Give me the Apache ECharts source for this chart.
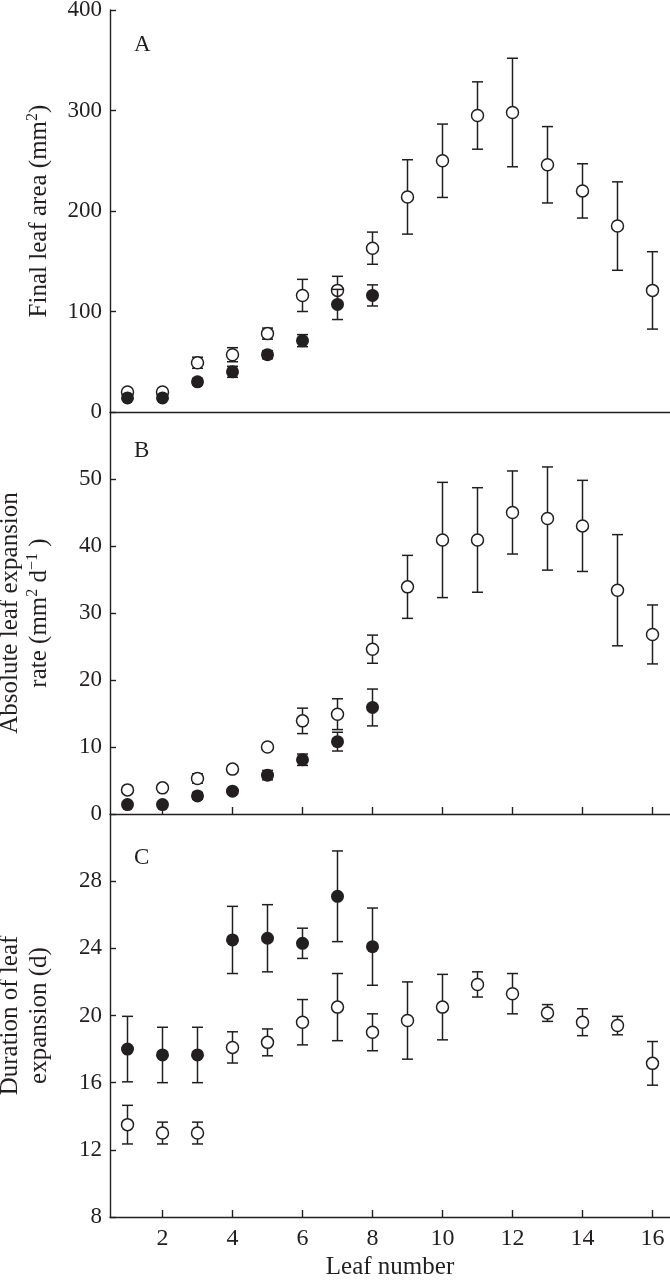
<!DOCTYPE html>
<html><head><meta charset="utf-8">
<script src="https://cdn.jsdelivr.net/npm/echarts@6/dist/echarts.min.js"></script>
<style>html,body{margin:0;padding:0;background:#fff}#c{width:670px;height:1280px}</style>
</head><body><div id="c"></div>
<script>
var leaves = [1,2,3,4,5,6,7,8,9,10,11,12,13,14,15,16];
var leavesFilled = [1,2,3,4,5,6,7,8];
var xTicks = [2,4,6,8,10,12,14,16];

var areaOpen = [20,20,49,57,78,116,121,163,214,250,295,298,246,220,185,121];
var areaOpenErr = [2,2,5.5,7,5.5,16,14,16,37,36.5,33.5,54,38,27,44,38.5];
var areaFilled = [14,14,30,40,57,71,107,116];
var areaFilledErr = [2,2,3,5.5,4,6,15,10.5];

var rateOpen = [3.6,3.9,5.3,6.7,10.0,13.9,14.9,24.6,33.9,40.9,40.9,45.0,44.1,43.0,33.4,26.8];
var rateOpenErr = [0.3,0.3,0.7,0.4,0.3,1.9,2.3,2.1,4.7,8.6,7.8,6.2,7.7,6.8,8.3,4.4];
var rateFilled = [1.4,1.4,2.7,3.4,5.8,8.1,10.8,15.9];
var rateFilledErr = [0.2,0.2,0.5,0.2,0.7,0.85,1.4,2.75];

var durOpen = [13.5,13.0,13.0,18.1,18.4,19.6,20.5,19.0,19.7,20.5,21.85,21.3,20.15,19.6,19.4,17.15];
var durOpenErr = [1.15,0.65,0.65,0.93,0.8,1.35,2.0,1.1,2.3,1.95,0.75,1.2,0.5,0.8,0.55,1.3];
var durFilled = [18.0,17.65,17.65,24.5,24.6,24.3,27.1,24.1];
var durFilledErr = [1.95,1.65,1.65,2.0,2.0,0.9,2.7,2.3];

var yTicksA = [0,100,200,300,400];
var yTicksB = [0,10,20,30,40,50];
var yTicksC = [8,12,16,20,24,28];

var INK = '#231f20';
var FONT = '"Liberation Serif","Times New Roman",serif';

function pts(xs, ys, es){ return xs.map(function(x,i){ return [x, ys[i], es[i]]; }); }

function errSeries(idx, data, z){
  return {
    type:'custom', xAxisIndex:idx, yAxisIndex:idx, data:data, z:z,
    renderItem:function(params, api){
      var x = api.value(0), y = api.value(1), e = api.value(2);
      var top = api.coord([x, y+e]), bot = api.coord([x, y-e]);
      var w = 5.5, st = {stroke:INK, lineWidth:1.5};
      return {type:'group', children:[
        {type:'line', shape:{x1:top[0], y1:top[1], x2:bot[0], y2:bot[1]}, style:st},
        {type:'line', shape:{x1:top[0]-w, y1:top[1], x2:top[0]+w, y2:top[1]}, style:st},
        {type:'line', shape:{x1:bot[0]-w, y1:bot[1], x2:bot[0]+w, y2:bot[1]}, style:st}
      ]};
    }
  };
}
function dotSeries(idx, data, filled, z){
  return {
    type:'scatter', xAxisIndex:idx, yAxisIndex:idx, data:data, z:z,
    symbol:'circle', symbolSize: filled ? 13 : 12,
    itemStyle: filled ? {color:INK, borderWidth:0, opacity:1} : {color:'#fff', borderColor:INK, borderWidth:1.5, opacity:1},
    emphasis:{disabled:true}
  };
}

var grids = [
  {left:110, right:0, top:10, height:402, outerBoundsMode:'none', containLabel:false},
  {left:110, right:0, top:412, height:402, outerBoundsMode:'none', containLabel:false},
  {left:110, right:0, top:814, height:403, outerBoundsMode:'none', containLabel:false}
];

function xAx(idx, ticks, labels){
  return {
    type:'value', gridIndex:idx, min:0.5, max:16.5,
    axisLine:{show:true, lineStyle:{color:INK, width:1.4}},
    axisTick:{show:ticks, inside:true, length:7, customValues:xTicks, lineStyle:{color:INK, width:1.4}},
    axisLabel:{show:labels, customValues:xTicks, fontFamily:FONT, fontSize:24, color:INK, margin:10},
    splitLine:{show:false},
    name: labels ? 'Leaf number' : '', nameLocation:'middle', nameGap:38,
    nameTextStyle:{fontFamily:FONT, fontSize:25, color:INK}
  };
}
var richSup = {sup:{fontFamily:FONT, fontSize:16, color:INK, verticalAlign:'top', lineHeight:18}};
function yAx(idx, min, max, ticks, name){
  return {
    type:'value', gridIndex:idx, min:min, max:max,
    axisLine:{show:true, lineStyle:{color:INK, width:1.4}},
    axisTick:{show:true, inside:true, length:6, customValues:ticks, lineStyle:{color:INK, width:1.4}},
    axisLabel:{customValues:ticks, fontFamily:FONT, fontSize:23, color:INK, margin:8},
    splitLine:{show:false},
    name:name, nameLocation:'middle', nameRotate:90, nameGap:56,
    nameTextStyle:{fontFamily:FONT, fontSize:25, color:INK, lineHeight:29, align:'center', rich:richSup}
  };
}

var option = {
  animation:false,
  backgroundColor:'#fff',
  title:[
    {text:'A', left:129, top:28, textStyle:{fontFamily:FONT, fontSize:23, fontWeight:'normal', color:INK}},
    {text:'B', left:129, top:434, textStyle:{fontFamily:FONT, fontSize:23, fontWeight:'normal', color:INK}},
    {text:'C', left:129, top:841, textStyle:{fontFamily:FONT, fontSize:23, fontWeight:'normal', color:INK}}
  ],
  grid:grids,
  xAxis:[xAx(0,false,false), xAx(1,true,false), xAx(2,true,true)],
  yAxis:[
    yAx(0, 0, 400, yTicksA, 'Final leaf area (mm{sup|2})'),
    yAx(1, 0, 60, yTicksB, 'Absolute leaf expansion\nrate (mm{sup|2} d{sup|\u22121} )'),
    yAx(2, 8, 32, yTicksC, 'Duration of leaf\nexpansion (d)')
  ],
  series:[
    errSeries(0, pts(leaves, areaOpen, areaOpenErr), 2),
    dotSeries(0, pts(leaves, areaOpen, areaOpenErr), false, 3),
    errSeries(0, pts(leavesFilled, areaFilled, areaFilledErr), 4),
    dotSeries(0, pts(leavesFilled, areaFilled, areaFilledErr), true, 5),

    errSeries(1, pts(leaves, rateOpen, rateOpenErr), 2),
    dotSeries(1, pts(leaves, rateOpen, rateOpenErr), false, 3),
    errSeries(1, pts(leavesFilled, rateFilled, rateFilledErr), 4),
    dotSeries(1, pts(leavesFilled, rateFilled, rateFilledErr), true, 5),

    errSeries(2, pts(leaves, durOpen, durOpenErr), 2),
    dotSeries(2, pts(leaves, durOpen, durOpenErr), false, 3),
    errSeries(2, pts(leavesFilled, durFilled, durFilledErr), 4),
    dotSeries(2, pts(leavesFilled, durFilled, durFilledErr), true, 5)
  ]
};
var chart = echarts.init(document.getElementById('c'), null, {renderer:'canvas'});
chart.setOption(option);
</script>
</body></html>
